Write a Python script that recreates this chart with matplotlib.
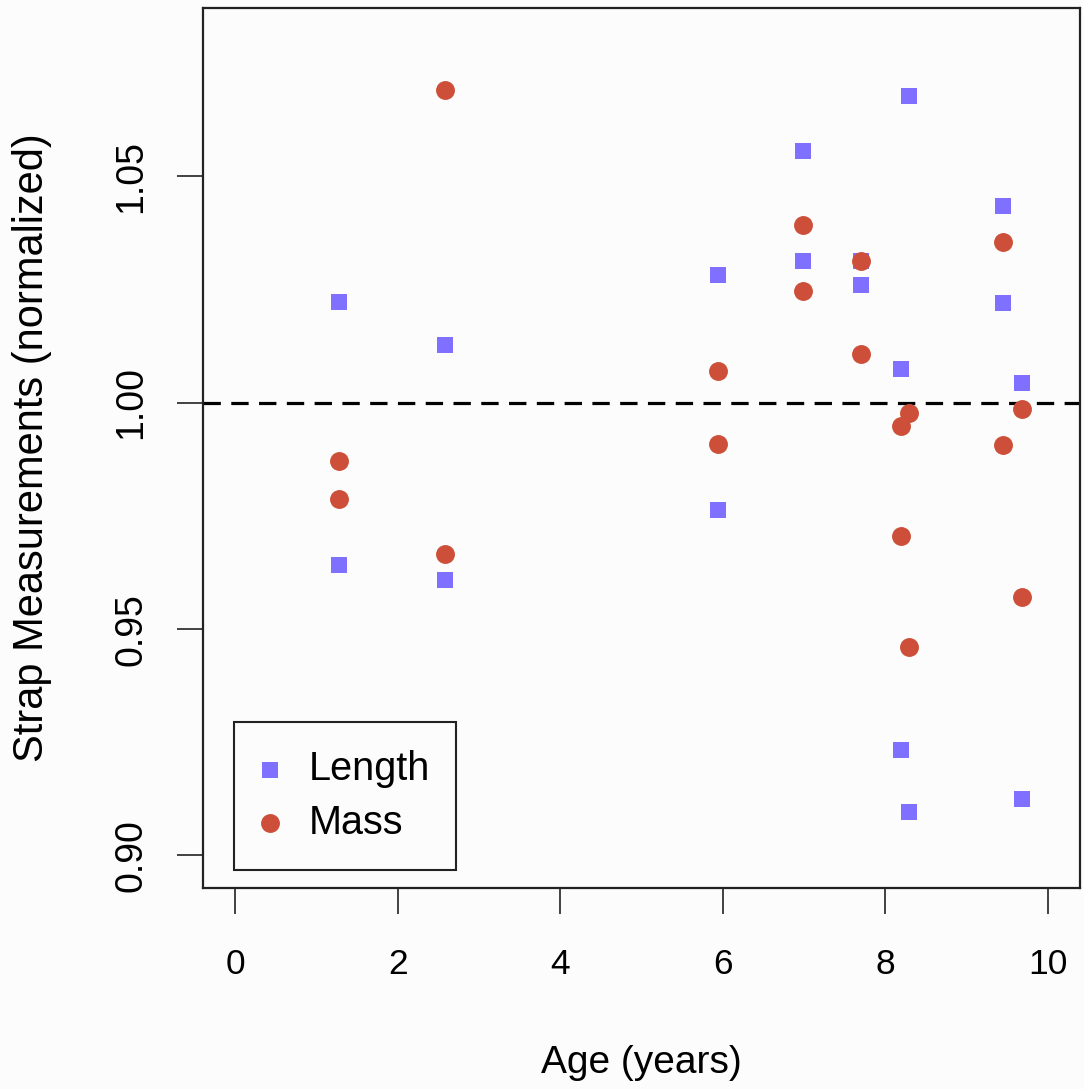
import matplotlib
matplotlib.use("Agg")
import matplotlib.pyplot as plt

plt.rcParams['font.family'] = ['Liberation Sans', 'DejaVu Sans']
plt.rcParams['lines.scale_dashes'] = False

# Data
length_age = [1.27, 1.27, 2.58, 2.58, 5.94, 5.94, 6.99, 6.99, 7.70, 7.70,
              8.20, 8.20, 8.29, 8.29, 9.45, 9.45, 9.69, 9.69]
length_val = [1.0223, 0.9642, 1.0128, 0.9608, 1.0283, 0.9763, 1.0555, 1.0314,
              1.0314, 1.0261, 1.0075, 0.9232, 1.0677, 0.9095, 1.0434, 1.0221,
              1.0044, 0.9124]
mass_age = [1.27, 1.27, 2.58, 2.58, 5.94, 5.94, 6.99, 6.99, 7.70, 7.70,
            8.20, 8.20, 8.29, 8.29, 9.45, 9.45, 9.69, 9.69]
mass_val = [0.9872, 0.9788, 1.0690, 0.9666, 1.0071, 0.9909, 1.0392, 1.0246,
            1.0314, 1.0108, 0.9949, 0.9706, 0.9978, 0.9460, 1.0354, 0.9907,
            0.9987, 0.9571]
x_ticks = [0, 2, 4, 6, 8, 10]
y_ticks = [0.90, 0.95, 1.00, 1.05]
y_tick_labels = ["0.90", "0.95", "1.00", "1.05"]
reference_level = 1.0

col_len = "#8070FF"
col_mass = "#CD4F39"

W, H = 1084, 1089
fig = plt.figure(figsize=(W / 100, H / 100), dpi=100, facecolor="#FCFCFC")
ax = fig.add_axes([203 / W, 1 - 888 / H, (1080 - 203) / W, (888 - 8) / H])
ax.set_facecolor("#FCFCFC")

ax.scatter(length_age, length_val, marker="s", s=12.2 ** 2, color=col_len,
           linewidths=0, label="Length", zorder=3)
ax.scatter(mass_age, mass_val, marker="o", s=13.6 ** 2, color=col_mass,
           linewidths=0, label="Mass", zorder=3)
ax.axhline(reference_level, color="black", lw=2.3, linestyle=(0, (12.5, 7.5)), zorder=2)

ax.set_xlim(-0.4, 10.4)
ax.set_ylim(0.8928, 1.0872)
ax.set_xticks(x_ticks)
ax.set_xticklabels([str(t) for t in x_ticks], fontsize=25.5)
ax.set_yticks(y_ticks)
ax.set_yticklabels(y_tick_labels, rotation=90, va="center", fontsize=27)

for sp in ax.spines.values():
    sp.set_linewidth(1.6)
    sp.set_color("#222222")

ax.tick_params(axis="both", direction="out", length=18.5, width=1.2,
               color="#222222")
ax.tick_params(axis="x", pad=25)
ax.tick_params(axis="y", pad=20)

ax.set_xlabel("Age (years)", fontsize=28, labelpad=46)
ax.set_ylabel("Strap Measurements (normalized)", fontsize=30, labelpad=44)

leg = ax.legend(loc="lower left",
                bbox_to_anchor=((234 - 203) / 877, (888 - 870) / 880,
                                (456 - 234) / 877, (870 - 721) / 880),
                mode="expand", borderaxespad=0, fontsize=28.5, frameon=True,
                fancybox=False, edgecolor="#222222", borderpad=0.72,
                labelspacing=0.38, handlelength=0.4, handletextpad=0.78,
                scatterpoints=1)
leg.get_frame().set_linewidth(1.5)
leg.get_frame().set_facecolor("#FCFCFC")
leg.get_frame().set_alpha(1)

fig.savefig("out.png", dpi=100, facecolor=fig.get_facecolor())
